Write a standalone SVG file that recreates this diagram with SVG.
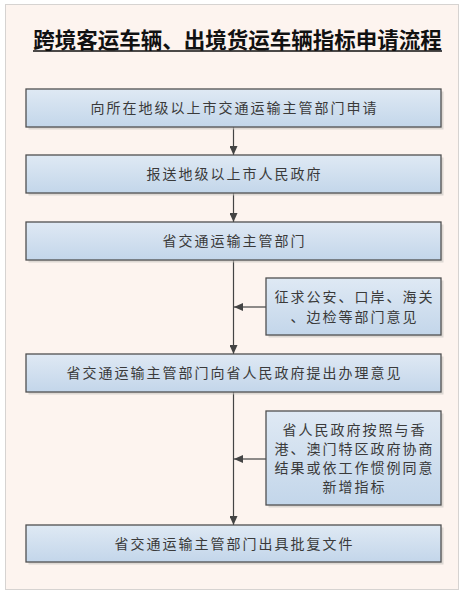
<svg xmlns="http://www.w3.org/2000/svg" width="463" height="593" viewBox="0 0 463 593">
<style>
.bx{fill:url(#g);stroke:#505050;stroke-width:1.3}
.sh{fill:#c8c4c0;opacity:0.6}
.t{font-family:"Noto Sans CJK SC","Noto Sans",sans-serif;font-size:14px;fill:#3a3a3a;letter-spacing:2px;text-anchor:middle}
.c{stroke:#444;stroke-width:1.2;fill:none;marker-end:url(#a)}
</style>
<defs>
<linearGradient id="g" x1="0" y1="0" x2="0" y2="1">
<stop offset="0" stop-color="#dfe9f4"/>
<stop offset="1" stop-color="#c3d6ea"/>
</linearGradient>
<marker id="a" markerWidth="10" markerHeight="8" refX="9" refY="4" orient="auto" markerUnits="userSpaceOnUse">
<path d="M0,0 L9,4 L0,8 Z" fill="#444"/>
</marker>
</defs>
<rect x="0" y="0" width="463" height="593" fill="#ffffff"/>
<rect x="5.5" y="4.5" width="453" height="585" fill="#fdf4ef" stroke="#d6d3d1" stroke-width="1"/>
<g id="title">
<text x="237.5" y="48" font-family="'Noto Sans CJK SC','Noto Sans',sans-serif" font-size="21.5" font-weight="bold" fill="#111" text-anchor="middle">跨境客运车辆、出境货运车辆指标申请流程</text>
<line x1="33" y1="51" x2="442" y2="51" stroke="#111" stroke-width="1.3"/>
</g>
<g id="connectors">
<line class="c" x1="233.5" y1="127" x2="233.5" y2="155"/>
<line class="c" x1="233.5" y1="193" x2="233.5" y2="222"/>
<line class="c" x1="233.5" y1="260" x2="233.5" y2="354"/>
<line class="c" x1="233.5" y1="392" x2="233.5" y2="525"/>
<line class="c" x1="266" y1="307" x2="234" y2="307"/>
<line class="c" x1="266" y1="459" x2="234" y2="459"/>
</g>
<g id="n1">
<rect class="sh" x="28.5" y="91.5" width="415" height="38"/>
<rect class="bx" x="26" y="89" width="415" height="38"/>
<text class="t" x="234.5" y="113">向所在地级以上市交通运输主管部门申请</text>
</g>
<g id="n2">
<rect class="sh" x="28.5" y="157.5" width="415" height="38"/>
<rect class="bx" x="26" y="155" width="415" height="38"/>
<text class="t" x="234.5" y="179">报送地级以上市人民政府</text>
</g>
<g id="n3">
<rect class="sh" x="28.5" y="224.5" width="415" height="38"/>
<rect class="bx" x="26" y="222" width="415" height="38"/>
<text class="t" x="234.5" y="246">省交通运输主管部门</text>
</g>
<g id="s1">
<rect class="sh" x="268.5" y="280.5" width="175" height="57"/>
<rect class="bx" x="266" y="278" width="175" height="57"/>
<text class="t" x="354.5" y="302">征求公安、口岸、海关</text>
<text class="t" x="354.5" y="322">、边检等部门意见</text>
</g>
<g id="n4">
<rect class="sh" x="28.5" y="356.5" width="415" height="38"/>
<rect class="bx" x="26" y="354" width="415" height="38"/>
<text class="t" x="234.5" y="378">省交通运输主管部门向省人民政府提出办理意见</text>
</g>
<g id="s2">
<rect class="sh" x="268.5" y="413.5" width="175" height="94"/>
<rect class="bx" x="266" y="411" width="175" height="94"/>
<text class="t" x="354.5" y="435">省人民政府按照与香</text>
<text class="t" x="354.5" y="454">港、澳门特区政府协商</text>
<text class="t" x="354.5" y="473">结果或依工作惯例同意</text>
<text class="t" x="354.5" y="492">新增指标</text>
</g>
<g id="n5">
<rect class="sh" x="28.5" y="527.5" width="415" height="37"/>
<rect class="bx" x="26" y="525" width="415" height="37"/>
<text class="t" x="234.5" y="548.5">省交通运输主管部门出具批复文件</text>
</g>
</svg>
